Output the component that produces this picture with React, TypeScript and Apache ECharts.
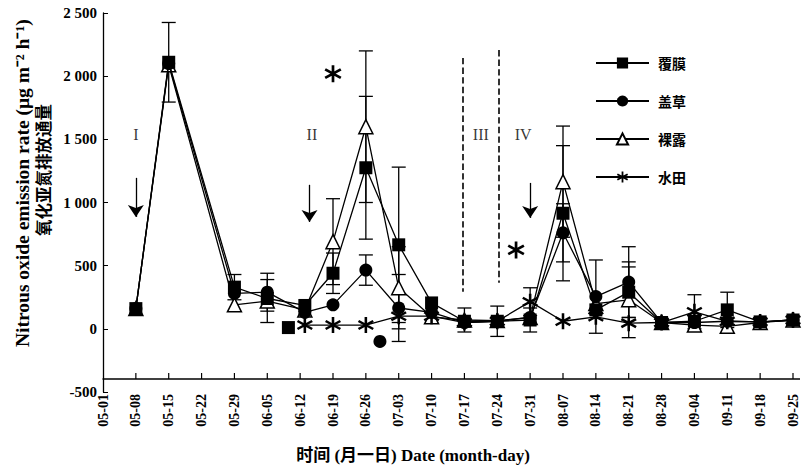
import React, { useEffect, useRef } from "react";
import * as echarts from "echarts";

const tickLabels = ["05-01","05-08","05-15","05-22","05-29","06-05","06-12","06-19","06-26","07-03","07-10","07-17","07-24","07-31","08-07","08-14","08-21","08-28","09-04","09-11","09-18","09-25"];

const seriesNames = ["覆膜", "盖草", "裸露", "水田"];

// day offsets from 05-01
const uplandDays = [7,14,28,35,43,49,56,63,70,77,84,91,98,105,112,119,126,133,140,147];
const filmValues = [160,2110,330,240,185,440,1275,665,205,60,60,70,915,150,290,50,60,150,55,70];
const strawValues = [160,2100,280,290,130,190,465,165,130,50,60,90,760,255,370,50,50,60,55,70];
const bareValues = [160,2090,190,220,150,690,1600,325,95,70,65,90,1165,200,230,50,30,20,50,70];
const paddyDays = [43,49,56,63,70,77,84,91,98,105,112,119,126,133,140,147];
const paddyValues = [30,30,30,100,100,50,60,215,60,95,45,50,135,60,55,70];

// [day, +/- error]
const filmErr = [[14,315],[28,100],[49,160],[56,565],[63,615],[84,120],[91,95],[98,535],[112,200],[133,140]];
const strawErr = [[35,150],[56,120],[63,265],[98,230],[105,290],[112,280]];
const bareErr = [[35,170],[49,340],[56,600],[63,325],[77,95],[98,440],[112,300]];
const paddyErr = [[91,110],[126,135]];

// stray points
const outlierDays = [49, 88, 59, 39.5];
const outlierValues = [2020, 625, -100, 10];
const outlierKinds = ["star", "star", "circle", "rect"];

// annotations
const numeralDays = [7, 44.5, 80.5, 89.5];
const numeralValues = [1535, 1535, 1535, 1535];
const numeralTexts = ["I", "II", "III", "IV"];
const arrowDays = [7, 44, 91];
const arrowTop = [1195, 1140, 1155];
const arrowBottom = [886, 846, 878];
const dashedDays = [76.7, 84.4];
const dashedTop = [2144, 2207];
const dashedBottom = [293, 364];

// the x axis crosses the y axis at this value, and runs to this day
const xAxisCross = -400;
const xAxisEnd = 148.5;

const STAR =
  "path://M-1.2,-8 L1.2,-8 L1.2,8 L-1.2,8 Z M7.53,2.96 L6.33,5.04 L-7.53,-2.96 L-6.33,-5.04 Z M6.33,-5.04 L7.53,-2.96 L-6.33,5.04 L-7.53,2.96 Z";

const SERIF = "Liberation Serif, Times New Roman, Noto Sans CJK SC, serif";
const CJK = "Noto Sans CJK SC, Liberation Serif, serif";

function buildErr(err: number[][], days: number[], vals: number[]) {
  return err.map(([d, e]) => {
    const v = vals[days.indexOf(d)];
    return [d, v - e, v + e];
  });
}

export default function App() {
  const ref = useRef<HTMLDivElement>(null);
  useEffect(() => {
    if (!ref.current) return;
    const chart = echarts.init(ref.current, undefined, { renderer: "svg" });
    const lineBase = (name: string, days: number[], vals: number[], symbol: string, size: number, fill: string, z: number) => ({
      name,
      type: "line",
      data: days.map((d, i) => [d, vals[i]]),
      symbol,
      symbolSize: size,
      showAllSymbol: true,
      lineStyle: { color: "#000", width: 1.3 },
      itemStyle: { color: fill, borderColor: "#000", borderWidth: fill === "#fff" ? 1.5 : 0, opacity: 1 },
      z,
    });
    const errData = [
      ...buildErr(filmErr, uplandDays, filmValues),
      ...buildErr(strawErr, uplandDays, strawValues),
      ...buildErr(bareErr, uplandDays, bareValues),
      ...buildErr(paddyErr, paddyDays, paddyValues),
    ];
    const kindSymbol: Record<string, string> = { star: STAR, circle: "circle", rect: "rect" };
    // rotated text, starting at (x, y) and running upward
    const vText = (id: string, x: number, y: number, text: string, size: number, family: string) => ({
      id,
      type: "text",
      x,
      y,
      rotation: Math.PI / 2,
      style: {
        text,
        fill: "#000",
        fontSize: size,
        fontFamily: family,
        fontWeight: "bold",
        align: "left",
        verticalAlign: "middle",
      },
    });
    const baseGraphic: any[] = [
      vText("yname-en", 22, 347, "Nitrous oxide emission rate (μg m⁻² h⁻¹)", 19.5, SERIF),
      vText("yname-cn", 43, 236, "氧化亚氮排放通量", 16.5, CJK),
      {
        id: "xname",
        type: "text",
        x: 413,
        y: 455,
        style: {
          text: "时间 (月一日) Date (month-day)",
          fill: "#000",
          fontSize: 17,
          fontFamily: SERIF,
          fontWeight: "bold",
          align: "center",
          verticalAlign: "middle",
        },
      },
    ];
    chart.setOption({
      animation: false,
      backgroundColor: "#fff",
      grid: { left: 103, right: 13, top: 13, bottom: 76, containLabel: false },
      xAxis: {
        type: "value",
        min: 0,
        max: 147,
        interval: 7,
        axisLine: { show: false, onZero: false },
        axisTick: { show: false },
        splitLine: { show: false },
        axisLabel: {
          rotate: 90,
          margin: 2,
          color: "#000",
          fontFamily: SERIF,
          fontSize: 14,
          fontWeight: "bold",
          formatter: (v: number) => tickLabels[Math.round(v / 7)] ?? "",
        },
      },
      yAxis: {
        type: "value",
        min: -500,
        max: 2500,
        interval: 500,
        axisLine: { show: true, onZero: false, lineStyle: { color: "#000", width: 1.3 } },
        axisTick: { show: true, inside: true, length: 5, lineStyle: { color: "#000" } },
        splitLine: { show: false },
        axisLabel: {
          margin: 6,
          color: "#000",
          fontFamily: SERIF,
          fontSize: 15,
          fontWeight: "bold",
          formatter: (v: number) => (Math.abs(v) >= 1000 ? String(v).replace(/(\d)(\d{3})$/, "$1 $2") : String(v)),
        },
      },
      legend: {
        data: seriesNames,
        orient: "vertical",
        left: 590,
        top: 51,
        itemWidth: 53,
        itemHeight: 14,
        itemGap: 24,
        textStyle: { color: "#000", fontFamily: CJK, fontSize: 14, fontWeight: "bold", padding: [0, 0, 0, 4] },
      },
      graphic: baseGraphic,
      series: [
        {
          type: "custom",
          silent: true,
          z: 2,
          data: errData,
          renderItem: (params: any, api: any) => {
            const x = api.value(0);
            const lo = api.coord([x, api.value(1)]);
            const hi = api.coord([x, api.value(2)]);
            const w = 7;
            const st = { stroke: "#000", lineWidth: 1.3 };
            return {
              type: "group",
              children: [
                { type: "line", shape: { x1: lo[0], y1: lo[1], x2: hi[0], y2: hi[1] }, style: st },
                { type: "line", shape: { x1: lo[0] - w, y1: lo[1], x2: lo[0] + w, y2: lo[1] }, style: st },
                { type: "line", shape: { x1: hi[0] - w, y1: hi[1], x2: hi[0] + w, y2: hi[1] }, style: st },
              ],
            };
          },
        },
        lineBase(seriesNames[0], uplandDays, filmValues, "rect", 13, "#000", 6),
        lineBase(seriesNames[1], uplandDays, strawValues, "circle", 13, "#000", 4),
        lineBase(seriesNames[2], uplandDays, bareValues, "triangle", 14, "#fff", 3),
        lineBase(seriesNames[3], paddyDays, paddyValues, STAR, 16, "#000", 5),
        {
          type: "scatter",
          z: 6,
          data: outlierDays.map((d, i) => ({
            value: [d, outlierValues[i]],
            symbol: kindSymbol[outlierKinds[i]],
            symbolSize: outlierKinds[i] === "star" ? 17 : 13,
          })),
          itemStyle: { color: "#000", opacity: 1 },
        },
        {
          type: "scatter",
          z: 6,
          symbolSize: 1,
          itemStyle: { color: "rgba(0,0,0,0)" },
          data: numeralDays.map((d, i) => ({ value: [d, numeralValues[i]], name: numeralTexts[i] })),
          label: {
            show: true,
            position: "inside",
            formatter: (p: any) => p.name,
            color: "#000",
            fontFamily: SERIF,
            fontSize: 16,
          },
          markLine: {
            silent: true,
            symbol: ["none", "none"],
            label: { show: false },
            data: [
              ...arrowDays.map((d, i) => [
                { coord: [d, arrowTop[i]], symbol: "none" },
                { coord: [d, arrowBottom[i]], symbol: "arrow", symbolSize: 12, lineStyle: { type: "solid" } },
              ]),
              ...dashedDays.map((d, i) => [
                { coord: [d, dashedTop[i]], lineStyle: { type: "dashed", width: 1.6, color: "#000" } },
                { coord: [d, dashedBottom[i]] },
              ]),
            ],
            lineStyle: { color: "#000", width: 1.3, type: "solid" },
          },
        },
      ],
    });

    // x axis line and inward ticks, placed through the chart's own scales
    const p0 = chart.convertToPixel({ gridIndex: 0 }, [0, xAxisCross]) as number[];
    const p1 = chart.convertToPixel({ gridIndex: 0 }, [xAxisEnd, xAxisCross]) as number[];
    const axisY = Math.round(p0[1]);
    const axisEls: any[] = [
      {
        id: "xaxis-line",
        type: "rect",
        z: 50,
        shape: { x: p0[0] - 0.5, y: axisY - 0.7, width: p1[0] - p0[0] + 0.5, height: 1.4 },
        style: { fill: "#000" },
      },
    ];
    tickLabels.forEach((_, i) => {
      if (i === 0) return;
      const p = chart.convertToPixel({ gridIndex: 0 }, [i * 7, xAxisCross]) as number[];
      axisEls.push({
        id: "xtick-" + i,
        type: "rect",
        z: 50,
        shape: { x: p[0] - 0.6, y: axisY - 6, width: 1.2, height: 6 },
        style: { fill: "#000" },
      });
    });
    chart.setOption({ graphic: [...baseGraphic, ...axisEls] });

    return () => chart.dispose();
  }, []);
  return <div ref={ref} style={{ position: "fixed", left: 0, top: 0, width: 806, height: 468, background: "#fff" }} />;
}
